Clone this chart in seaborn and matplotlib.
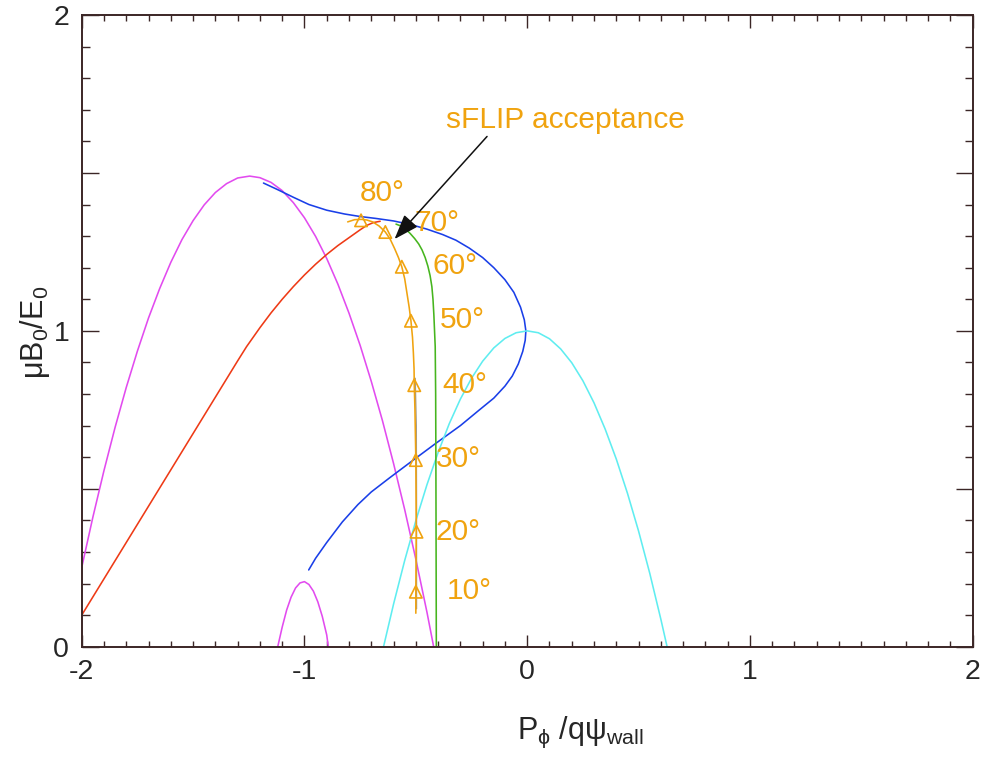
import numpy as np
import pandas as pd
import matplotlib
matplotlib.use("Agg")
import matplotlib.pyplot as plt
from matplotlib.ticker import MultipleLocator, FuncFormatter
import seaborn as sb

# ---- curves (x = P_phi/q psi_wall, y = mu B0/E0) ----
magenta_big_x = [-2.0, -1.95, -1.9, -1.85, -1.8, -1.75, -1.7, -1.65, -1.6, -1.55, -1.5,
                 -1.45, -1.4, -1.35, -1.3, -1.246, -1.2, -1.15, -1.1, -1.05, -1.0,
                 -0.95, -0.9, -0.85, -0.8, -0.75, -0.7, -0.65, -0.6, -0.55, -0.5,
                 -0.45, -0.42]
magenta_big_y = [0.251, 0.410, 0.558, 0.695, 0.821, 0.936, 1.041, 1.134, 1.217, 1.289, 1.349,
                 1.399, 1.438, 1.466, 1.484, 1.49, 1.485, 1.470, 1.444, 1.406, 1.358,
                 1.299, 1.229, 1.148, 1.056, 0.954, 0.840, 0.716, 0.580, 0.434, 0.277,
                 0.109, 0.0]

magenta_small_x = [-1.12, -1.10, -1.08, -1.06, -1.04, -1.02, -1.0, -0.98, -0.96, -0.94,
                   -0.92, -0.90, -0.893]
magenta_small_y = [0.0, 0.062, 0.116, 0.157, 0.186, 0.202, 0.206, 0.197, 0.176, 0.142,
                   0.096, 0.037, 0.0]

red_x = [-2.0, -1.9, -1.8, -1.7, -1.6, -1.5, -1.4, -1.3, -1.26, -1.2, -1.15, -1.1, -1.05,
         -1.0, -0.95, -0.9, -0.85, -0.8, -0.75, -0.72, -0.69, -0.66]
red_y = [0.10, 0.215, 0.33, 0.445, 0.56, 0.675, 0.79, 0.905, 0.95, 1.01, 1.057, 1.10, 1.14,
         1.177, 1.211, 1.242, 1.27, 1.295, 1.320, 1.334, 1.343, 1.347]

blue_x = [-1.184, -1.12, -1.05, -0.98, -0.9, -0.82, -0.75, -0.68, -0.6, -0.52, -0.45, -0.38,
          -0.32, -0.26, -0.2, -0.15, -0.1, -0.06, -0.03, -0.013, -0.006, -0.009, -0.02,
          -0.04, -0.067, -0.1, -0.15, -0.216, -0.3, -0.41, -0.5, -0.619, -0.7, -0.76,
          -0.83, -0.9, -0.95, -0.981]
blue_y = [1.468, 1.447, 1.423, 1.40, 1.382, 1.37, 1.362, 1.356, 1.348, 1.336, 1.322, 1.305,
          1.287, 1.262, 1.232, 1.20, 1.162, 1.122, 1.075, 1.035, 1.0, 0.97, 0.935,
          0.895, 0.857, 0.825, 0.787, 0.749, 0.70, 0.644, 0.597, 0.534, 0.49, 0.45,
          0.395, 0.33, 0.28, 0.243]

cyan_x = [-0.645, -0.6, -0.55, -0.5, -0.45, -0.4, -0.35, -0.3, -0.25, -0.2, -0.15, -0.1,
          -0.05, 0.0, 0.05, 0.1, 0.15, 0.2, 0.25, 0.3, 0.35, 0.4, 0.45, 0.5, 0.55, 0.6, 0.628]
cyan_y = [0.0, 0.135, 0.273, 0.399, 0.513, 0.615, 0.706, 0.784, 0.850, 0.904, 0.946, 0.976,
          0.994, 1.0, 0.994, 0.975, 0.943, 0.899, 0.842, 0.772, 0.689, 0.594, 0.486, 0.366,
          0.233, 0.087, 0.0]

green_x = [-0.408, -0.409, -0.41, -0.411, -0.413, -0.416, -0.419, -0.423, -0.428, -0.436,
           -0.446, -0.458, -0.472, -0.487, -0.505, -0.525, -0.545, -0.567, -0.589]
green_y = [0.0, 0.3, 0.6, 0.8, 0.95, 1.0, 1.05, 1.10, 1.14, 1.175,
           1.205, 1.232, 1.256, 1.275, 1.292, 1.308, 1.322, 1.332, 1.338]

# sFLIP acceptance line and the pitch-angle markers on it
sflip_x = [-0.806, -0.775, -0.746, -0.72, -0.694, -0.665, -0.637, -0.615, -0.595, -0.578,
           -0.563, -0.55, -0.54, -0.53, -0.522, -0.515, -0.511, -0.508, -0.507, -0.504,
           -0.502, -0.5, -0.499, -0.498, -0.499, -0.5, -0.5]
sflip_y = [1.345, 1.352, 1.353, 1.351, 1.345, 1.332, 1.313, 1.29, 1.26, 1.232,
           1.203, 1.165, 1.12, 1.075, 1.032, 0.98, 0.93, 0.88, 0.828, 0.75,
           0.67, 0.591, 0.48, 0.364, 0.27, 0.174, 0.106]
gray_x = [-0.497, -0.497, -0.498, -0.503]
gray_y = [0.12, 0.45, 0.70, 0.85]

angle_labels = ['10°', '20°', '30°', '40°', '50°', '60°', '70°', '80°']
angle_x = [-0.5, -0.497, -0.5, -0.507, -0.522, -0.563, -0.637, -0.746]
angle_y = [0.174, 0.364, 0.591, 0.828, 1.032, 1.203, 1.313, 1.350]
label_x = [-0.36, -0.41, -0.41, -0.383, -0.392, -0.424, -0.507, -0.754]
label_y = [0.176, 0.363, 0.594, 0.828, 1.033, 1.204, 1.343, 1.435]

ORANGE = '#F0A30F'
FRAME = '#3B2626'

sb.set_style('ticks')
plt.rcParams['font.family'] = ['Liberation Sans', 'DejaVu Sans']
plt.rcParams['mathtext.fontset'] = 'custom'
plt.rcParams['mathtext.rm'] = 'Liberation Sans'
plt.rcParams['mathtext.it'] = 'Liberation Sans'

fig = plt.figure(figsize=(9.87, 7.62), dpi=100)
ax = fig.add_axes([0.0828, 0.1513, 0.9027, 0.829])

lw = 1.15
curves = [
    (magenta_big_x, magenta_big_y, '#E24BEF'),
    (magenta_small_x, magenta_small_y, '#E24BEF'),
    (red_x, red_y, '#EE3A16'),
    (blue_x, blue_y, '#1A3FE8'),
    (cyan_x, cyan_y, '#5FEDF0'),
    (green_x, green_y, '#46B51E'),
]
for cx, cy, col in curves:
    sb.lineplot(x=cx, y=cy, sort=False, estimator=None, color=col, linewidth=lw, ax=ax)

sb.lineplot(x=gray_x, y=gray_y, sort=False, estimator=None, color='#A09A90',
            linewidth=1.0, ax=ax)
sb.lineplot(x=sflip_x, y=sflip_y, sort=False, estimator=None, color=ORANGE,
            linewidth=lw, ax=ax)
sb.scatterplot(x=angle_x, y=angle_y, marker='^', s=80, facecolor='none',
               edgecolor=ORANGE, linewidth=1.2, ax=ax, zorder=5)

for lab, tx, ty in zip(angle_labels, label_x, label_y):
    ax.text(tx, ty, lab, color=ORANGE, fontsize=21.5, ha='left', va='center')

ax.annotate('', xy=(-0.604, 1.284), xytext=(-0.172, 1.622),
            arrowprops=dict(arrowstyle='-|>,head_length=0.7,head_width=0.25',
                            color='#111111', lw=1.1, mutation_scale=22))
ax.text(-0.364, 1.667, 'sFLIP acceptance', color=ORANGE, fontsize=21.5,
        ha='left', va='center')

ax.set_xlim(-2, 2)
ax.set_ylim(0, 2)

ax.xaxis.set_major_locator(MultipleLocator(1.0))
ax.xaxis.set_minor_locator(MultipleLocator(0.1))
ax.yaxis.set_major_locator(MultipleLocator(0.5))
ax.yaxis.set_minor_locator(MultipleLocator(0.1))
int_fmt = FuncFormatter(lambda v, p: f'{int(round(v))}' if abs(v - round(v)) < 1e-6 else '')
ax.xaxis.set_major_formatter(int_fmt)
ax.yaxis.set_major_formatter(int_fmt)

ax.tick_params(axis='x', which='major', direction='in', length=9, width=1.0,
               color=FRAME, top=True, labelsize=20.5, pad=9)
ax.tick_params(axis='x', which='minor', direction='in', length=4.5, width=1.0,
               color=FRAME, top=True)
ax.tick_params(axis='y', which='major', direction='in', length=12, width=1.0,
               color=FRAME, right=True, labelsize=20.5, pad=9)
ax.tick_params(axis='y', which='minor', direction='in', length=6, width=1.0,
               color=FRAME, right=True)
for sp in ax.spines.values():
    sp.set_color(FRAME)
    sp.set_linewidth(1.4)

ax.set_xlabel(r'$\mathrm{P_{\phi}\ /q\psi_{wall}}$', fontsize=22)
ax.set_ylabel(r'$\mathrm{\mu B_0/E_0}$', fontsize=22)
ax.xaxis.set_label_coords(0.56, -0.108)
ax.yaxis.set_label_coords(-0.033, 0.497)

fig.savefig('out.png', dpi=100)
